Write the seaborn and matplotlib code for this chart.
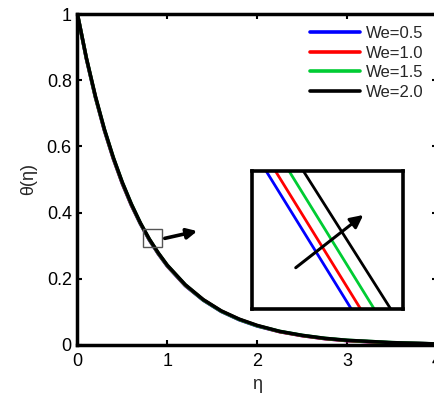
import numpy as np
import pandas as pd
import matplotlib
matplotlib.use("Agg")
import matplotlib.pyplot as plt
import seaborn as sns
from matplotlib.patches import Rectangle
from matplotlib.lines import Line2D

# ---- data ----
eta = [0, 0.1, 0.2, 0.3, 0.4, 0.5, 0.6, 0.7, 0.8, 0.9, 1.0, 1.2, 1.4, 1.6,
       1.8, 2.0, 2.25, 2.5, 2.75, 3.0, 3.5, 4.0]
theta_we05 = [1.000, 0.864, 0.748, 0.648, 0.562, 0.487, 0.422, 0.366, 0.317, 0.275, 0.238,
              0.179, 0.135, 0.101, 0.076, 0.057, 0.040, 0.028, 0.019, 0.013, 0.006, 0.003]
theta_we10 = [1.000, 0.865, 0.749, 0.649, 0.563, 0.488, 0.423, 0.367, 0.318, 0.276, 0.239,
              0.180, 0.136, 0.102, 0.077, 0.058, 0.040, 0.028, 0.019, 0.013, 0.006, 0.003]
theta_we15 = [1.000, 0.866, 0.750, 0.651, 0.565, 0.490, 0.425, 0.368, 0.319, 0.277, 0.240,
              0.181, 0.136, 0.102, 0.077, 0.058, 0.041, 0.029, 0.020, 0.014, 0.007, 0.003]
theta_we20 = [1.000, 0.867, 0.752, 0.652, 0.566, 0.491, 0.426, 0.369, 0.320, 0.278, 0.241,
              0.182, 0.137, 0.103, 0.078, 0.059, 0.041, 0.029, 0.020, 0.014, 0.007, 0.003]
labels = ["We=0.5", "We=1.0", "We=1.5", "We=2.0"]
colors = ["#0000ff", "#ff0000", "#00cc33", "#000000"]

# magnified view (inset): eta where each curve crosses the top / bottom of the zoom box
zoom_theta = [0.350, 0.296]
zoom_eta_top = [0.749, 0.762, 0.781, 0.801]
zoom_eta_bottom = [0.868, 0.881, 0.900, 0.923]
zoom_eta_range = [0.73, 0.94]

xticks = [0, 1, 2, 3, 4]
xticklabels = ["0", "1", "2", "3", "4"]
yticks = [0, 0.2, 0.4, 0.6, 0.8, 1.0]
yticklabels = ["0", "0.2", "0.4", "0.6", "0.8", "1"]

# ---- style ----
sns.set_style("ticks")
plt.rcParams["font.family"] = ["Liberation Sans", "DejaVu Sans"]
plt.rcParams["xtick.direction"] = "in"
plt.rcParams["ytick.direction"] = "in"

series = [theta_we05, theta_we10, theta_we15, theta_we20]
df = pd.DataFrame({
    "eta": eta * 4,
    "theta": sum(series, []),
    "We": sum([[lab] * len(eta) for lab in labels], []),
})

fig = plt.figure(figsize=(4.35, 3.96), dpi=100)
ax = fig.add_axes([0.178, 0.129, 0.8266, 0.8356])
sns.lineplot(data=df, x="eta", y="theta", hue="We", palette=colors,
             hue_order=labels, lw=2.5, ax=ax, sort=False, legend=False)
ax.set_xlim(0, 4)
ax.set_ylim(0, 1)
ax.set_xticks(xticks)
ax.set_xticklabels(xticklabels)
ax.set_yticks(yticks)
ax.set_yticklabels(yticklabels)
ax.tick_params(axis="both", which="both", top=True, right=True, length=3.5,
               width=1.5, labelsize=13, colors="black")
ax.tick_params(axis="x", pad=6)
ax.tick_params(axis="y", pad=4)
for s in ax.spines.values():
    s.set_linewidth(2.5)
    s.set_color("black")
ax.set_xlabel("η", fontsize=13, labelpad=4)
ax.set_ylabel("θ(η)", fontsize=13, labelpad=7)

handles = [Line2D([0], [0], color=c, lw=2.6) for c in colors]
ax.legend(handles, labels, loc="upper left", bbox_to_anchor=(0.647, 0.964),
          frameon=False, fontsize=12, handlelength=3.0, handletextpad=0.35,
          labelspacing=0.28, borderpad=0, borderaxespad=0)

# zoom box on the curve
ax.add_patch(Rectangle((zoom_eta_range[0], zoom_theta[1]),
                       zoom_eta_range[1] - zoom_eta_range[0],
                       zoom_theta[0] - zoom_theta[1],
                       fill=False, ec="#555555", lw=1.0, zorder=5))
ax.annotate("", xy=(1.333, 0.344), xytext=(0.971, 0.322),
            arrowprops=dict(arrowstyle="-|>", color="black", lw=2.6,
                            mutation_scale=15, shrinkA=0, shrinkB=0))

# inset
axi = fig.add_axes([0.58, 0.2205, 0.3457, 0.3485])
for i, lab in enumerate(labels):
    zdf = pd.DataFrame({"eta": [zoom_eta_top[i], zoom_eta_bottom[i]],
                        "theta": zoom_theta})
    sns.lineplot(data=zdf, x="eta", y="theta", color=colors[i], lw=2.0,
                 ax=axi, sort=False)
axi.set_xlim(zoom_eta_range)
axi.set_ylim(zoom_theta[1], zoom_theta[0])
axi.set_xticks([])
axi.set_yticks([])
axi.set_xlabel("")
axi.set_ylabel("")
for s in axi.spines.values():
    s.set_linewidth(2.6)
    s.set_color("black")
axi.annotate("", xy=(0.738, 0.679), xytext=(0.289, 0.297),
             xycoords="axes fraction", textcoords="axes fraction",
             arrowprops=dict(arrowstyle="-|>", color="black", lw=2.2,
                             mutation_scale=19, shrinkA=0, shrinkB=0))

fig.savefig("out.png", dpi=100)
